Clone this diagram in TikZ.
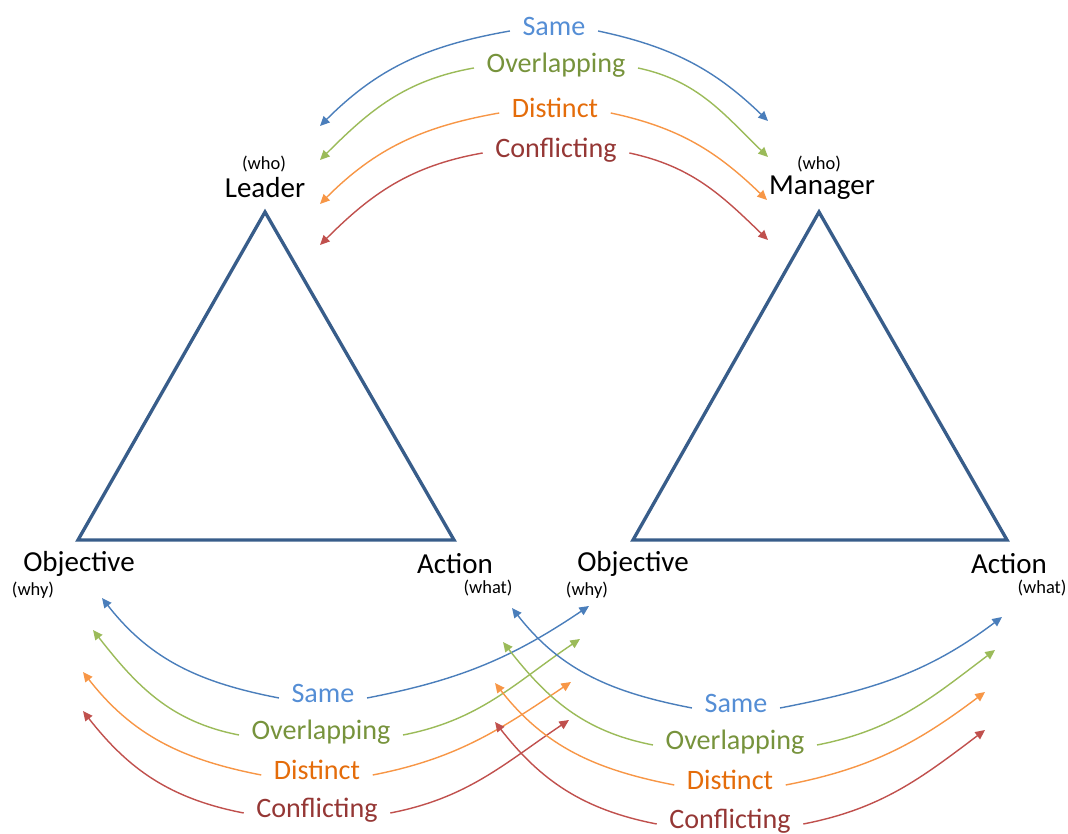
\documentclass[tikz,border=0pt]{standalone}
\usepackage{fontspec}
\setmainfont{Carlito}
\usepackage{tikz}
\usetikzlibrary{arrows.meta,positioning}
\definecolor{triblue}{HTML}{385D8A}
\definecolor{sameText}{HTML}{558ED5}
\definecolor{sameLine}{HTML}{4A7EBB}
\definecolor{overText}{HTML}{77933C}
\definecolor{overLine}{HTML}{9BBB59}
\definecolor{distText}{HTML}{E46C0A}
\definecolor{distLine}{HTML}{F79646}
\definecolor{confText}{HTML}{953735}
\definecolor{confLine}{HTML}{C0504D}
\tikzset{
  tri/.style    ={draw=triblue,line width=1.9pt},
  role/.style   ={font=\fontsize{16.5}{19}\selectfont,inner sep=0pt},
  tag/.style    ={font=\fontsize{10.5}{12}\selectfont,inner sep=0pt},
  rel/.style    ={font=\fontsize{16}{19}\selectfont,inner xsep=7pt,inner ysep=0pt,
                  text height=1.45ex,text depth=.45ex},
  relsame/.style={rel,text=sameText},
  relover/.style={rel,text=overText},
  reldist/.style={rel,text=distText},
  relconf/.style={rel,text=confText},
  link/.style   ={-{Triangle[length=5.5pt,width=5pt]},line width=0.8pt},
  arrsame/.style={link,draw=sameLine},
  arrover/.style={link,draw=overLine},
  arrdist/.style={link,draw=distLine},
  arrconf/.style={link,draw=confLine},
}

\begin{document}
\begin{tikzpicture}[x=0.02cm,y=0.02cm]
  \useasboundingbox (0,0) rectangle (1068,834);
  % the two triangles
  \coordinate (ltop) at (265,622);
  \coordinate (lobj) at (78,294);
  \coordinate (lact) at (454,294);
  \coordinate (rtop) at (819,622);
  \coordinate (robj) at (633,294);
  \coordinate (ract) at (1007,294);
  \draw[tri] (ltop) -- (lobj) -- (lact) -- cycle;
  \draw[tri] (rtop) -- (robj) -- (ract) -- cycle;
  % corner names
  \node[role] (lead) at (265,646) {Leader};
  \node[tag]  (leadw) at (264,670) {(who)};
  \node[role] (mgr) at (822,646) {Manager};
  \node[tag]  (mgrw) at (819,670) {(who)};
  \node[role] (lobjn) at (79,270) {Objective};
  \node[tag]  (lobjw) at (33,244) {(why)};
  \node[role] (lactn) at (455,270) {Action};
  \node[tag]  (lactw) at (488,246) {(what)};
  \node[role] (robjn) at (633,270) {Objective};
  \node[tag]  (robjw) at (587,244) {(why)};
  \node[role] (ractn) at (1009,270) {Action};
  \node[tag]  (ractw) at (1042,246) {(what)};

  % leader <-> manager
  \node[relsame] (ts) at (554,803) {Same};
  \node[relover] (to) at (556,766) {Overlapping};
  \node[reldist] (td) at (555,721) {Distinct};
  \node[relconf] (tc) at (556,681) {Conflicting};
  \coordinate (tsL) at (320,708); \coordinate (tsR) at (768,713);
  \coordinate (toL) at (320,674); \coordinate (toR) at (768,677);
  \coordinate (tdL) at (320,630); \coordinate (tdR) at (767,634);
  \coordinate (tcL) at (320,589); \coordinate (tcR) at (768,594);
  \draw[arrsame] (ts.west) to[out=190,in=45] (tsL);
  \draw[arrsame] (ts.east) to[out=-12,in=136] (tsR);
  \draw[arrover] (to.west) to[out=190,in=45] (toL);
  \draw[arrover] (to.east) to[out=-12,in=136] (toR);
  \draw[arrdist] (td.west) to[out=190,in=45] (tdL);
  \draw[arrdist] (td.east) to[out=-12,in=136] (tdR);
  \draw[arrconf] (tc.west) to[out=190,in=45] (tcL);
  \draw[arrconf] (tc.east) to[out=-12,in=136] (tcR);

  % objective <-> objective
  \node[relsame] (os) at (323,136) {Same};
  \node[relover] (oo) at (321,99) {Overlapping};
  \node[reldist] (od) at (317,59) {Distinct};
  \node[relconf] (oc) at (317,21) {Conflicting};
  \coordinate (osL) at (102,236); \coordinate (osR) at (589,228);
  \coordinate (ooL) at (93,204);  \coordinate (ooR) at (580,195);
  \coordinate (odL) at (83,162);  \coordinate (odR) at (571,152);
  \coordinate (ocL) at (83,123);  \coordinate (ocR) at (569,114);
  \draw[arrsame] (os.west) to[out=169,in=-52] (osL);
  \draw[arrsame] (os.east) to[out=11,in=214] (osR);
  \draw[arrover] (oo.west) to[out=169,in=-52] (ooL);
  \draw[arrover] (oo.east) to[out=11,in=214] (ooR);
  \draw[arrdist] (od.west) to[out=169,in=-52] (odL);
  \draw[arrdist] (od.east) to[out=11,in=214] (odR);
  \draw[arrconf] (oc.west) to[out=169,in=-52] (ocL);
  \draw[arrconf] (oc.east) to[out=11,in=214] (ocR);

  % action <-> action
  \node[relsame] (as) at (736,126) {Same};
  \node[relover] (ao) at (735,89) {Overlapping};
  \node[reldist] (ad) at (730,49) {Distinct};
  \node[relconf] (ac) at (730,10) {Conflicting};
  \coordinate (asL) at (512,226); \coordinate (asR) at (1002,217);
  \coordinate (aoL) at (503,192); \coordinate (aoR) at (995,184);
  \coordinate (adL) at (495,151); \coordinate (adR) at (985,142);
  \coordinate (acL) at (495,112); \coordinate (acR) at (985,104);
  \draw[arrsame] (as.west) to[out=169,in=-52] (asL);
  \draw[arrsame] (as.east) to[out=11,in=217] (asR);
  \draw[arrover] (ao.west) to[out=169,in=-52] (aoL);
  \draw[arrover] (ao.east) to[out=11,in=217] (aoR);
  \draw[arrdist] (ad.west) to[out=169,in=-52] (adL);
  \draw[arrdist] (ad.east) to[out=11,in=217] (adR);
  \draw[arrconf] (ac.west) to[out=169,in=-52] (acL);
  \draw[arrconf] (ac.east) to[out=11,in=217] (acR);
\end{tikzpicture}
\end{document}
